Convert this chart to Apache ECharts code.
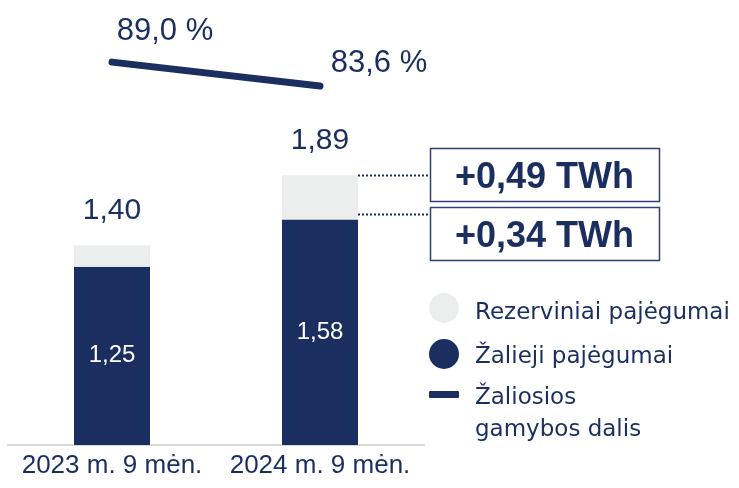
<!DOCTYPE html>
<html>
<head>
<meta charset="utf-8">
<script src="https://cdn.jsdelivr.net/npm/echarts@6/dist/echarts.min.js"></script>
<style>html,body{margin:0;padding:0;background:#fff}#c{width:739px;height:488px}</style>
</head>
<body>
<div id="c"></div>
<script>
const categories = ['2023 m. 9 mėn.', '2024 m. 9 mėn.'];
const greenValues = [1.25, 1.58];
const reserveValues = [0.15, 0.31];
const totalValues = [1.40, 1.89];
const greenShare = [89.0, 83.6];
const deltaLabels = ['+0,49 TWh', '+0,34 TWh'];
const legendNames = ['Rezerviniai pajėgumai', 'Žalieji pajėgumai', 'Žaliosios', 'gamybos dalis'];

const NAVY = '#1a2e5f';
const GREY = '#eceeed';
const FONT = "'Liberation Sans', Arial, sans-serif";
const LFONT = "'DejaVu Sans', 'Liberation Sans', sans-serif";
const fmt = (v, d) => v.toFixed(d).replace('.', ',');

const chart = echarts.init(document.getElementById('c'), null, {renderer: 'canvas'});
const option = {
  animation: false,
  textStyle: {fontFamily: FONT},
  grid: [
    {left: 8, width: 416, top: 17, height: 428},
    {left: 8, width: 416, top: 40, height: 62}
  ],
  xAxis: [
    {type: 'category', gridIndex: 0, data: categories,
     axisLine: {lineStyle: {color: '#d9d9d9', width: 2}}, axisTick: {show: false},
     axisLabel: {color: NAVY, fontSize: 26, margin: 8, interval: 0, hideOverlap: false, fontFamily: FONT}},
    {type: 'category', gridIndex: 1, data: categories, show: false}
  ],
  yAxis: [
    {type: 'value', gridIndex: 0, min: 0, max: 3, show: false, splitLine: {show: false}},
    {type: 'value', gridIndex: 1, min: 80, max: 94, show: false, splitLine: {show: false}}
  ],
  series: [
    {name: legendNames[1], type: 'bar', stack: 's', barWidth: 76, data: greenValues,
     itemStyle: {color: NAVY},
     label: {show: true, position: 'inside', color: '#fff', fontSize: 24, fontFamily: FONT,
             formatter: p => fmt(p.value, 2)}},
    {name: legendNames[0], type: 'bar', stack: 's', barWidth: 76, data: reserveValues,
     itemStyle: {color: GREY},
     label: {show: true, position: 'top', distance: 20, color: NAVY, fontSize: 30, lineHeight: 30, fontFamily: FONT,
             formatter: p => fmt(totalValues[p.dataIndex], 2)}},
    {name: 'Žaliosios gamybos dalis', type: 'line', xAxisIndex: 1, yAxisIndex: 1,
     data: [
       {value: greenShare[0], label: {offset: [53, -14]}},
       {value: greenShare[1], label: {offset: [59, -6]}}
     ],
     lineStyle: {color: NAVY, width: 7, cap: 'round'},
     itemStyle: {color: NAVY},
     symbol: 'circle', symbolSize: 1, showSymbol: true,
     label: {show: true, position: 'top', distance: 0, color: NAVY, fontSize: 31, lineHeight: 32, fontFamily: FONT,
             formatter: p => fmt(p.value, 1) + ' %'}}
  ]
};
chart.setOption(option);

// annotations
const halfBar = 38;
const p1 = chart.convertToPixel({seriesIndex: 0}, [1, totalValues[1]]);
const p2 = chart.convertToPixel({seriesIndex: 0}, [1, greenValues[1]]);
const boxX = 430, boxW = 229, boxH = 53;
const graphics = [];
[[p1[1], 148], [p2[1] - 6, 207]].forEach((pair, i) => {
  const ly = Math.round(pair[0]) + 0.5;
  graphics.push({type: 'line', shape: {x1: p1[0] + halfBar, y1: ly, x2: boxX, y2: ly},
    style: {stroke: NAVY, lineWidth: 2, lineDash: [2, 2]}});
  graphics.push({type: 'rect', shape: {x: boxX + 0.5, y: pair[1] + 0.5, width: boxW, height: boxH},
    style: {fill: '#fff', stroke: '#2e4272', lineWidth: 1.5}});
  graphics.push({type: 'text', x: boxX + boxW / 2, y: pair[1] + boxH / 2 + 4,
    style: {text: deltaLabels[i], fill: NAVY, font: "bold 36px " + FONT, textAlign: 'center', textVerticalAlign: 'middle'}});
});
// legend
graphics.push({type: 'circle', shape: {cx: 444, cy: 308, r: 15}, style: {fill: GREY}});
graphics.push({type: 'circle', shape: {cx: 444, cy: 354, r: 15}, style: {fill: NAVY}});
graphics.push({type: 'rect', shape: {x: 429, y: 391, width: 30, height: 7, r: 1}, style: {fill: NAVY}});
[[legendNames[0], 313], [legendNames[1], 357], [legendNames[2], 398], [legendNames[3], 430]].forEach(t => {
  graphics.push({type: 'text', x: 475, y: t[1],
    style: {text: t[0], fill: NAVY, font: "23px " + LFONT, textAlign: 'left', textVerticalAlign: 'middle'}});
});
chart.setOption({graphic: graphics});
</script>
</body>
</html>
